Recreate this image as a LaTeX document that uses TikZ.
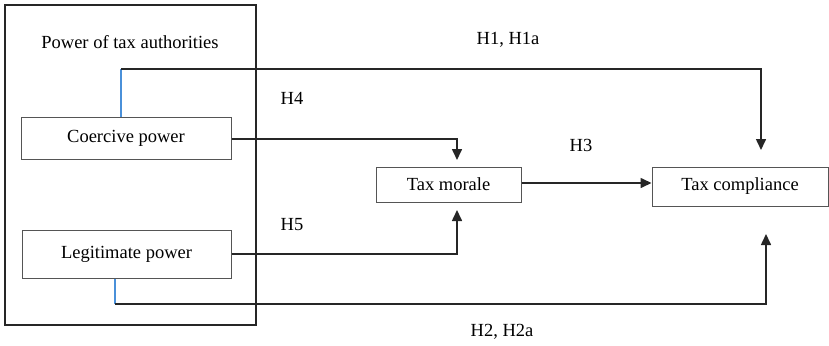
\documentclass[tikz,border=0pt]{standalone}
\usepackage{fontspec}
\setmainfont{Liberation Serif}
\usetikzlibrary{arrows.meta}
\definecolor{bluelink}{HTML}{4A90D9}
\definecolor{boxgray}{HTML}{555555}
\tikzset{
  box/.style={draw=boxgray, line width=1pt, inner sep=0pt, font=\fontsize{18.5}{21}\selectfont},
  lbl/.style={inner sep=0pt, font=\fontsize{18.5}{21}\selectfont},
  conn/.style={draw=black!85, line width=1.6pt, -{Triangle[length=11pt,width=10pt]}},
  bluestub/.style={draw=bluelink, line width=1.1pt},
  outerbox/.style={draw=black!85, line width=1.6pt, inner sep=0pt}
}
\begin{document}
\begin{tikzpicture}[x=1pt,y=-1pt]
\useasboundingbox (0,0) rectangle (829,345);
% outer group box
\node[outerbox, minimum width=251pt, minimum height=320pt] (outer) at (130.5,165) {};
\node[lbl] (title) at (130,42) {Power of tax authorities};
% boxes
\node[box, minimum width=210pt, minimum height=42pt] (coercive) at (126,138) {Coercive power};
\node[box, minimum width=209pt, minimum height=48pt] (legit) at (126.5,254) {Legitimate power};
\node[box, minimum width=145pt, minimum height=35pt] (morale) at (448.5,184.5) {Tax morale};
\node[box, minimum width=176pt, minimum height=39pt] (compl) at (740,186.5) {Tax compliance};
% helper coordinates
\coordinate (h1a) at (121,69);
\coordinate (h1end) at (761,150);
\coordinate (h4end) at (457,160);
\coordinate (h5end) at (457,210);
\coordinate (h2a) at (115,304);
\coordinate (h2end) at (766,234);
% connectors
\draw[bluestub] (coercive.north -| h1a) -- (h1a);
\draw[conn] (h1a) -| (h1end);
\draw[conn] (coercive.east |- 0,139) -| (h4end);
\draw[conn] (legit.east |- 0,254) -| (h5end);
\draw[conn] (morale.east |- 0,183) -- (compl.west |- 0,183);
\draw[bluestub] (legit.south -| h2a) -- (h2a);
\draw[conn] (h2a) -| (h2end);
% labels
\node[lbl] (lh1) at (508,40) {H1, H1a};
\node[lbl] (lh4) at (292,98) {H4};
\node[lbl] (lh3) at (581,145) {H3};
\node[lbl] (lh5) at (292,225) {H5};
\node[lbl] (lh2) at (502,332) {H2, H2a};
\end{tikzpicture}
\end{document}
